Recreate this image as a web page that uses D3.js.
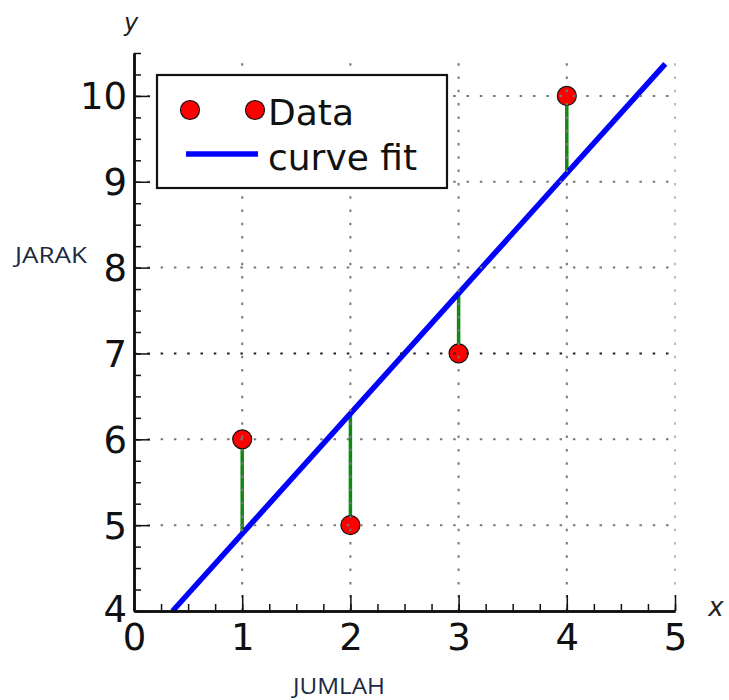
<!DOCTYPE html>
<html><head><meta charset="utf-8">
<script src="https://cdn.jsdelivr.net/npm/d3@7"></script>
<style>
body{margin:0;background:#fff;}
svg{display:block;}
</style></head>
<body>
<svg id="chart" width="729" height="700"></svg>
<script>
const xData = [1, 2, 3, 4];
const yData = [6, 5, 7, 10];
const fitSlope = 1.4;
const fitIntercept = 3.5;
const fitRange = [0.357, 4.91];
const xTicks = [0, 1, 2, 3, 4, 5];
const yTicks = [4, 5, 6, 7, 8, 9, 10];
const legendLabels = ["Data", "curve fit"];

const svg = d3.select("#chart");
const x = d3.scaleLinear().domain([0, 5]).range([134, 675]);
const y = d3.scaleLinear().domain([4, 10.5]).range([611, 53]);
const font = "'DejaVu Sans', sans-serif";

// residual lines
svg.append("g").selectAll("line").data(xData).join("line")
  .attr("x1", d => x(d)).attr("x2", d => x(d))
  .attr("y1", (d, i) => y(yData[i]))
  .attr("y2", d => y(fitIntercept + fitSlope * d))
  .attr("stroke", "#118811").attr("stroke-width", 3.5);

// fit line
const fitPts = fitRange.map(v => [v, fitIntercept + fitSlope * v]);
svg.append("path")
  .attr("d", d3.line().x(d => x(d[0])).y(d => y(d[1]))(fitPts))
  .attr("stroke", "#0000ff").attr("stroke-width", 5.5).attr("fill", "none");

// data points
svg.append("g").selectAll("circle").data(xData).join("circle")
  .attr("cx", d => x(d)).attr("cy", (d, i) => y(yData[i]))
  .attr("r", 9.5).attr("fill", "#ff0000").attr("stroke", "#111").attr("stroke-width", 1.2);

// grid (drawn on top, dotted)
const grid = svg.append("g");
grid.selectAll("line.v").data(xTicks.slice(1)).join("line")
  .attr("class", "v")
  .attr("x1", d => x(d)).attr("x2", d => x(d))
  .attr("y1", y(4)).attr("y2", y(10.5))
  .attr("stroke", d => d === 5 ? "#bbb" : "#777")
  .attr("stroke-width", 2).attr("stroke-dasharray", "2.5,10.8");
grid.selectAll("line.h").data(yTicks.slice(1)).join("line")
  .attr("class", "h")
  .attr("x1", x(0)).attr("x2", x(5))
  .attr("y1", d => y(d)).attr("y2", d => y(d))
  .attr("stroke", d => d === 7 ? "#222" : "#777")
  .attr("stroke-width", 2).attr("stroke-dasharray", "2.5,10.8");

// axes
function styleAxis(g) {
  g.select(".domain").attr("stroke", "#111").attr("stroke-width", 2.5);
  g.selectAll(".tick line").attr("stroke", "#111").attr("stroke-width", 1.5);
}
const minorX = d3.range(0, 5.001, 0.25);
const minorY = d3.range(4, 10.501, 0.25);
svg.append("g").attr("transform", `translate(0,${y(4)})`)
  .call(d3.axisBottom(x).tickValues(minorX).tickSize(-7).tickSizeOuter(0).tickFormat(""))
  .call(styleAxis);
svg.append("g").attr("transform", `translate(${x(0)},0)`)
  .call(d3.axisLeft(y).tickValues(minorY).tickSize(-7).tickSizeOuter(0).tickFormat(""))
  .call(styleAxis);
const xAx = svg.append("g").attr("transform", `translate(0,${y(4)})`)
  .call(d3.axisBottom(x).tickValues(xTicks).tickFormat(d3.format("d")).tickSize(-16).tickSizeOuter(0).tickPadding(0))
  .call(styleAxis);
xAx.selectAll(".tick text").attr("font-family", font).attr("font-size", 37)
  .attr("fill", "#111").attr("y", 39).attr("dy", 0);
const yAx = svg.append("g").attr("transform", `translate(${x(0)},0)`)
  .call(d3.axisLeft(y).tickValues(yTicks).tickFormat(d3.format("d")).tickSize(-16).tickSizeOuter(0).tickPadding(0))
  .call(styleAxis);
yAx.selectAll(".tick text").attr("font-family", font).attr("font-size", 37)
  .attr("fill", "#111").attr("x", -7).attr("dy", "0.35em");
yAx.selectAll(".tick").filter(d => d === 4).select("text").attr("dy", "0.27em");

// axis labels
svg.append("text").attr("x", 131).attr("y", 31).attr("text-anchor", "middle")
  .attr("font-family", font).attr("font-style", "italic").attr("font-size", 24)
  .attr("fill", "#222").text("y");
svg.append("text").attr("x", 716).attr("y", 616).attr("text-anchor", "middle")
  .attr("font-family", font).attr("font-style", "italic").attr("font-size", 26)
  .attr("fill", "#222").text("x");
svg.append("text").attr("x", 15).attr("y", 263)
  .attr("font-family", "'Open Sans', sans-serif").attr("font-size", 21)
  .attr("textLength", 72).attr("lengthAdjust", "spacingAndGlyphs")
  .attr("fill", "#1a2a44").text("JARAK");
svg.append("text").attr("x", 293).attr("y", 694)
  .attr("font-family", "'Open Sans', sans-serif").attr("font-size", 21)
  .attr("textLength", 92).attr("lengthAdjust", "spacingAndGlyphs")
  .attr("fill", "#1a2a44").text("JUMLAH");

// legend
const lg = svg.append("g");
lg.append("rect").attr("x", 157).attr("y", 75).attr("width", 290).attr("height", 113)
  .attr("fill", "#fff").attr("stroke", "#111").attr("stroke-width", 2.2);
lg.selectAll("circle").data([190, 255]).join("circle")
  .attr("cx", d => d).attr("cy", 110).attr("r", 9.5)
  .attr("fill", "#ff0000").attr("stroke", "#111").attr("stroke-width", 1.2);
lg.append("line").attr("x1", 186).attr("x2", 258).attr("y1", 154).attr("y2", 154)
  .attr("stroke", "#0000ff").attr("stroke-width", 5.5);
lg.selectAll("text").data(legendLabels).join("text")
  .attr("x", 268).attr("y", (d, i) => 125 + i * 45)
  .attr("font-family", font).attr("font-size", 36).attr("fill", "#111")
  .text(d => d);
</script>
</body></html>
